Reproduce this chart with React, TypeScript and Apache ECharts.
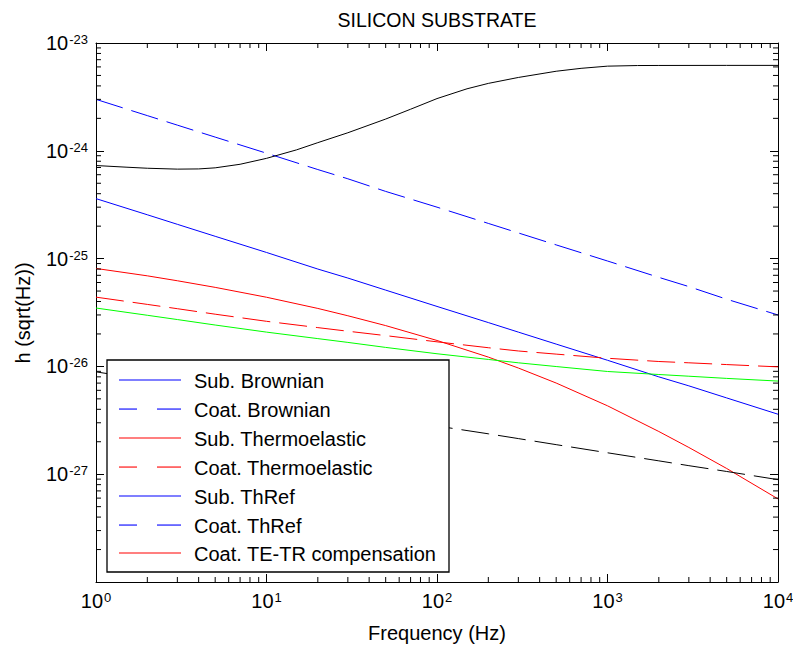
import React, { useEffect, useRef } from "react";
import * as echarts from "echarts";

// Frequency grid (Hz) shared by the component noise curves
const frequency = [1, 2, 3, 5, 10, 20, 30, 50, 100, 200, 300, 500, 1000, 2000, 3000, 5000, 10000];

// Strain noise amplitude h (1/sqrt(Hz)) per contribution
const subBrownian = [3.6e-25, 2.55e-25, 2.08e-25, 1.61e-25, 1.14e-25, 8.0e-26, 6.6e-26, 5.1e-26, 3.6e-26, 2.55e-26, 2.08e-26, 1.61e-26, 1.14e-26, 8.0e-27, 6.6e-27, 5.1e-27, 3.6e-27];
const coatBrownian = [3.0e-24, 2.12e-24, 1.73e-24, 1.34e-24, 9.5e-25, 6.7e-25, 5.5e-25, 4.2e-25, 3.0e-25, 2.12e-25, 1.73e-25, 1.34e-25, 9.5e-26, 6.7e-26, 5.5e-26, 4.2e-26, 3.0e-26];
const subThermoelastic = [8.1e-26, 6.92e-26, 6.23e-26, 5.41e-26, 4.38e-26, 3.45e-26, 2.95e-26, 2.39e-26, 1.74e-26, 1.22e-26, 9.66e-27, 7.01e-27, 4.31e-27, 2.49e-27, 1.77e-27, 1.13e-27, 5.9e-28];
const coatThermoelastic = [4.39e-26, 3.76e-26, 3.43e-26, 3.05e-26, 2.62e-26, 2.29e-26, 2.12e-26, 1.93e-26, 1.69e-26, 1.49e-26, 1.39e-26, 1.3e-26, 1.19e-26, 1.11e-26, 1.08e-26, 1.04e-26, 9.9e-27];
const subThRef = [3.48e-26, 2.98e-26, 2.72e-26, 2.42e-26, 2.08e-26, 1.81e-26, 1.67e-26, 1.5e-26, 1.31e-26, 1.16e-26, 1.08e-26, 9.97e-27, 8.97e-27, 8.41e-27, 8.11e-27, 7.74e-27, 7.31e-27];
const coatThRef = [8.9e-27, 7.5e-27, 6.8e-27, 5.95e-27, 5.0e-27, 4.2e-27, 3.8e-27, 3.35e-27, 2.8e-27, 2.37e-27, 2.14e-27, 1.88e-27, 1.58e-27, 1.33e-27, 1.2e-27, 1.06e-27, 8.9e-28];

// The compensated total bends strongly, so it is sampled on a finer grid
const compFrequency = [1, 1.5, 2, 3, 4, 5, 7, 10, 15, 20, 30, 50, 70, 100, 150, 200, 300, 500, 700, 1000, 1500, 2000, 5000, 10000];
const teTrCompensation = [7.3e-25, 7.05e-25, 6.89e-25, 6.76e-25, 6.79e-25, 6.95e-25, 7.5e-25, 8.51e-25, 1.02e-24, 1.19e-24, 1.47e-24, 1.97e-24, 2.43e-24, 3.05e-24, 3.76e-24, 4.22e-24, 4.79e-24, 5.47e-24, 5.82e-24, 6.1e-24, 6.18e-24, 6.19e-24, 6.2e-24, 6.2e-24];

// Axis ranges and decades used for the minor ticks
const X_MIN = 1;
const X_MAX = 1e4;
const Y_MIN = 1e-28;
const Y_MAX = 1e-23;
const xDecades = [1, 10, 100, 1000];
const yDecades = [1e-28, 1e-27, 1e-26, 1e-25, 1e-24];
const minorSteps = [2, 3, 4, 5, 6, 7, 8, 9];

// Legend entries as labelled in the figure
const legendLabels = [
  "Sub. Brownian",
  "Coat. Brownian",
  "Sub. Thermoelastic",
  "Coat. Thermoelastic",
  "Sub. ThRef",
  "Coat. ThRef",
  "Coat. TE-TR compensation",
];
const legendColors = ["#0000ff", "#0000ff", "#ff0000", "#ff0000", "#0000ff", "#0000ff", "#ff0000"];
const legendDashed = [false, true, false, true, false, true, false];

const FONT = "Liberation Sans, Arial, sans-serif";
const DASH = [28, 9];

const GRID = { left: 96, right: 15, top: 43, bottom: 67 };

function lineSeries(name: string, xs: number[], values: number[], color: string, dashed: boolean) {
  return {
    name,
    type: "line",
    data: xs.map((f, i) => [f, values[i]]),
    symbol: "none",
    showSymbol: false,
    lineStyle: { color, width: 1, type: dashed ? DASH.slice() : "solid" },
    emphasis: { disabled: true },
    z: 3,
  };
}

const pow10Label = (v: number) => {
  const e = Math.round(Math.log10(v));
  return `{b|10}{e|${e}}`;
};

// Boxed legend in the lower-left corner of the plot, drawn above the curves
function buildLegend() {
  const left = 107;
  const top = 360;
  const width = 342;
  const height = 212;
  const rowTop = 380;
  const rowStep = 28.9;
  const sampleX0 = 119;
  const sampleX1 = 181;
  const Z = 100;
  const elements: any[] = [
    {
      type: "rect",
      z: Z,
      shape: { x: left, y: top, width, height },
      style: { fill: "#ffffff", stroke: "#000000", lineWidth: 1.3 },
    },
  ];
  legendLabels.forEach((label, i) => {
    const y = Math.round(rowTop + i * rowStep);
    const fill = legendColors[i];
    const pieces = legendDashed[i]
      ? [
          [sampleX0, 137],
          [157, sampleX1],
        ]
      : [[sampleX0, sampleX1]];
    pieces.forEach(([a, b]) => {
      elements.push({
        type: "rect",
        z: Z + 1,
        shape: { x: a, y: y - 0.5, width: b - a, height: 1.1 },
        style: { fill, stroke: null },
      });
    });
    elements.push({
      type: "text",
      z: Z + 1,
      x: 194,
      y: y + 0.5,
      style: {
        text: label,
        fontFamily: FONT,
        fontSize: 20,
        fill: "#000000",
        textVerticalAlign: "middle",
        textAlign: "left",
      },
    });
  });
  return elements;
}

function minorTickData() {
  const data: number[][] = [];
  xDecades.forEach((d) => minorSteps.forEach((m) => data.push([d * m, Y_MIN, 0])));
  yDecades.forEach((d) => minorSteps.forEach((m) => data.push([X_MIN, d * m, 1])));
  return data;
}

function makeAxis(min: number, max: number, position: string, extra: any) {
  return {
    type: "log",
    logBase: 10,
    min,
    max,
    position,
    splitLine: { show: false },
    axisLine: { show: true, onZero: false, lineStyle: { color: "#000000", width: 1 } },
    axisTick: { show: true, inside: true, length: 8, lineStyle: { color: "#000000", width: 1 } },
    ...extra,
  };
}

function tickRich() {
  return {
    b: { fontSize: 20, lineHeight: 20, fontFamily: FONT, color: "#000", verticalAlign: "bottom" },
    e: { fontSize: 13, lineHeight: 13, fontFamily: FONT, color: "#000", verticalAlign: "top", padding: [0, 0, 13, 1] },
  };
}

export default function App() {
  const ref = useRef<HTMLDivElement>(null);

  useEffect(() => {
    if (!ref.current) return;
    const chart = echarts.init(ref.current, undefined, { renderer: "svg" });

    const option: any = {
      animation: false,
      backgroundColor: "#ffffff",
      grid: { ...GRID, containLabel: false, outerBoundsMode: "none" },
      xAxis: [
        makeAxis(X_MIN, X_MAX, "bottom", {
          name: "Frequency (Hz)",
          nameLocation: "middle",
          nameGap: 41,
          nameTextStyle: { fontFamily: FONT, fontSize: 20, color: "#000" },
          axisLabel: { formatter: pow10Label, margin: 9, rich: tickRich() },
        }),
        makeAxis(X_MIN, X_MAX, "top", { axisLabel: { show: false } }),
      ],
      yAxis: [
        makeAxis(Y_MIN, Y_MAX, "left", {
          axisLabel: { formatter: pow10Label, margin: 8, rich: tickRich() },
        }),
        makeAxis(Y_MIN, Y_MAX, "right", { axisLabel: { show: false } }),
      ],
      graphic: [
        {
          type: "text",
          x: 437,
          y: 20,
          style: {
            text: "SILICON SUBSTRATE",
            fontFamily: FONT,
            fontSize: 19.5,
            fill: "#000000",
            textAlign: "center",
            textVerticalAlign: "middle",
          },
        },
        {
          type: "text",
          x: 23,
          y: 313,
          rotation: Math.PI / 2,
          style: {
            text: "h (sqrt(Hz))",
            fontFamily: FONT,
            fontSize: 20,
            fill: "#000000",
            textAlign: "center",
            textVerticalAlign: "middle",
          },
        },
        ...buildLegend(),
      ],
      series: [
        lineSeries("Sub. Brownian", frequency, subBrownian, "#0000ff", false),
        lineSeries("Coat. Brownian", frequency, coatBrownian, "#0000ff", true),
        lineSeries("Sub. Thermoelastic", frequency, subThermoelastic, "#ff0000", false),
        lineSeries("Coat. Thermoelastic", frequency, coatThermoelastic, "#ff0000", true),
        lineSeries("Sub. ThRef", frequency, subThRef, "#00ff00", false),
        lineSeries("Coat. ThRef", frequency, coatThRef, "#000000", true),
        lineSeries("Coat. TE-TR compensation", compFrequency, teTrCompensation, "#000000", false),
        {
          type: "custom",
          silent: true,
          clip: false,
          z: 4,
          data: minorTickData(),
          renderItem: (_params: any, api: any) => {
            const kind = api.value(2);
            const lo = api.coord([X_MIN, Y_MIN]);
            const hi = api.coord([X_MAX, Y_MAX]);
            const len = 5;
            const style = { stroke: "#000000", lineWidth: 1 };
            if (kind === 0) {
              const x = api.coord([api.value(0), Y_MIN])[0];
              return {
                type: "group",
                children: [
                  { type: "line", shape: { x1: x, y1: lo[1], x2: x, y2: lo[1] - len }, style },
                  { type: "line", shape: { x1: x, y1: hi[1], x2: x, y2: hi[1] + len }, style },
                ],
              };
            }
            const y = api.coord([X_MIN, api.value(1)])[1];
            return {
              type: "group",
              children: [
                { type: "line", shape: { x1: lo[0], y1: y, x2: lo[0] + len, y2: y }, style },
                { type: "line", shape: { x1: hi[0], y1: y, x2: hi[0] - len, y2: y }, style },
              ],
            };
          },
        },
      ],
    };

    chart.setOption(option);
    return () => chart.dispose();
  }, []);

  return (
    <div
      ref={ref}
      style={{ position: "absolute", left: 0, top: 0, width: 793, height: 649, background: "#fff" }}
    />
  );
}
